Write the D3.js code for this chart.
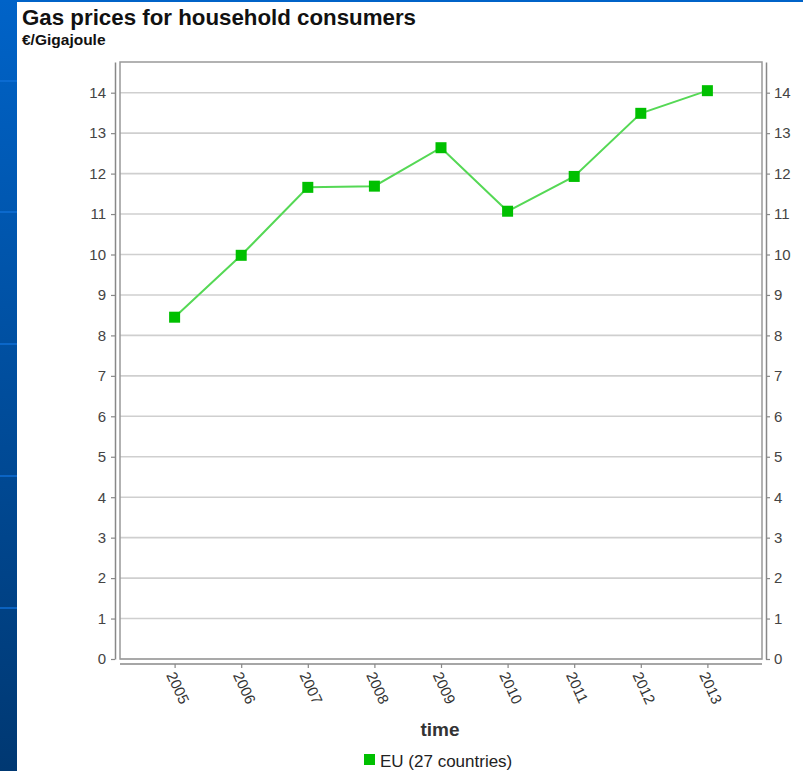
<!DOCTYPE html>
<html>
<head>
<meta charset="utf-8">
<script src="https://cdn.jsdelivr.net/npm/d3@7/dist/d3.min.js"></script>
<style>
  html, body { margin: 0; padding: 0; background: #fff; }
  svg { display: block; font-family: "Liberation Sans", Arial, sans-serif; }
</style>
</head>
<body>
<svg id="chart" width="803" height="771"></svg>
<script>
const years = ["2005", "2006", "2007", "2008", "2009", "2010", "2011", "2012", "2013"];
const euValues = [8.45, 9.98, 11.66, 11.69, 12.64, 11.07, 11.93, 13.49, 14.05];
const yTicks = [0, 1, 2, 3, 4, 5, 6, 7, 8, 9, 10, 11, 12, 13, 14];
const seriesName = "EU (27 countries)";
const titleText = "Gas prices for household consumers";
const subtitleText = "€/Gigajoule";
const xTitle = "time";

(function () {
const svg = d3.select("#chart");
const W = 803, H = 771;

// background decoration
const defs = svg.append("defs");
const grad = defs.append("linearGradient").attr("id", "strip").attr("x1", 0).attr("y1", 0).attr("x2", 0).attr("y2", 1);
grad.append("stop").attr("offset", "0%").attr("stop-color", "#0063c8");
grad.append("stop").attr("offset", "100%").attr("stop-color", "#003872");
svg.append("rect").attr("x", 0).attr("y", 0).attr("width", W).attr("height", H).attr("fill", "#fff");
svg.append("rect").attr("x", 0).attr("y", 0).attr("width", 17).attr("height", H).attr("fill", "url(#strip)");
svg.append("rect").attr("x", 0).attr("y", 0).attr("width", W).attr("height", 2).attr("fill", "#0063c8");
[80, 211, 343, 475, 607].forEach(yy => {
  svg.append("rect").attr("x", 0).attr("y", yy).attr("width", 17).attr("height", 2)
    .attr("fill", "#1070d8").attr("opacity", 0.7);
});

// layout
const pL = 120, pR = 762, pT = 62, pB = 659;

const x = d3.scalePoint().domain(years).range([pL, pR]).padding(0.82);
const y = d3.scaleLinear().domain([0, (pB - pT) / 40.45]).range([pB, pT]);

// gridlines
svg.append("g").selectAll("line").data(yTicks).join("line")
  .attr("x1", pL).attr("x2", pR)
  .attr("y1", d => y(d)).attr("y2", d => y(d))
  .attr("stroke", "#cfcfcf").attr("stroke-width", 1.6);

// frame
svg.append("rect").attr("x", pL).attr("y", pT).attr("width", pR - pL).attr("height", pB - pT)
  .attr("fill", "none").attr("stroke", "#999").attr("stroke-width", 1.5);

// left axis
const yAxisL = svg.append("g").attr("transform", `translate(${pL - 5},0)`)
  .call(d3.axisLeft(y).tickValues(yTicks).tickFormat(d3.format("d")).tickSize(4).tickSizeOuter(0).tickPadding(5));
// right axis
const yAxisR = svg.append("g").attr("transform", `translate(${pR + 4},0)`)
  .call(d3.axisRight(y).tickValues(yTicks).tickFormat(d3.format("d")).tickSize(4).tickSizeOuter(0).tickPadding(4));
// bottom axis
const xAxis = svg.append("g").attr("transform", `translate(0,${pB + 5})`)
  .call(d3.axisBottom(x).tickSize(4).tickSizeOuter(0).tickPadding(6));
xAxis.select(".domain").attr("d", `M${pL},0H${pR}`);

[yAxisL, yAxisR, xAxis].forEach(g => {
  g.select(".domain").attr("stroke", "#888").attr("stroke-width", 1.5);
  g.selectAll(".tick line").attr("stroke", "#888").attr("stroke-width", 1.2);
  g.selectAll(".tick text").attr("fill", "#444").attr("font-size", 15)
    .attr("font-family", "'Liberation Sans', Arial, sans-serif");
});
xAxis.selectAll(".tick text")
  .attr("text-anchor", "start")
  .attr("dy", "0")
  .attr("y", 0)
  .attr("fill", "#333")
  .attr("transform", "translate(-9,11) rotate(65)");

// line
const line = d3.line().x((d, i) => x(years[i])).y(d => y(d));
svg.append("path").datum(euValues).attr("d", line)
  .attr("fill", "none").attr("stroke", "#55d855").attr("stroke-width", 2);
svg.append("g").selectAll("rect").data(euValues).join("rect")
  .attr("x", (d, i) => x(years[i]) - 5.5).attr("y", d => y(d) - 5.5)
  .attr("width", 11).attr("height", 11).attr("fill", "#00c000");

// titles
svg.append("text").attr("x", 22).attr("y", 25).attr("font-size", 22.3).attr("font-weight", "bold")
  .attr("fill", "#111").text(titleText);
svg.append("text").attr("x", 22).attr("y", 45).attr("font-size", 15.5).attr("font-weight", "bold")
  .attr("fill", "#111").text(subtitleText);
svg.append("text").attr("x", 440).attr("y", 736).attr("text-anchor", "middle")
  .attr("font-size", 19).attr("font-weight", "bold").attr("fill", "#333").text(xTitle);

// legend
svg.append("rect").attr("x", 364).attr("y", 754).attr("width", 11).attr("height", 11).attr("fill", "#00c000");
svg.append("text").attr("x", 380).attr("y", 767).attr("font-size", 17).attr("fill", "#222").text(seriesName);
})();
</script>
</body>
</html>
